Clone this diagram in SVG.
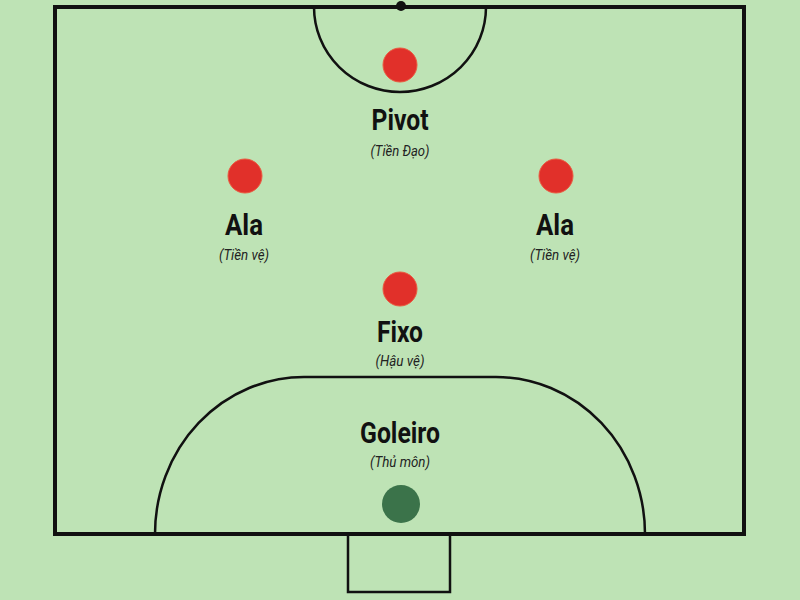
<svg xmlns="http://www.w3.org/2000/svg" width="800" height="600" viewBox="0 0 800 600">
<style>
.line{fill:none;stroke:#111;stroke-width:2.5}
.outer{fill:none;stroke:#111;stroke-width:4}
.red{fill:#e1302a;stroke:#eb5a40;stroke-width:1}
.title{font-family:Roboto,"Liberation Sans",sans-serif;font-weight:bold;font-size:30px;fill:#111;text-anchor:middle}
.sub{font-family:Roboto,"Liberation Sans",sans-serif;font-style:italic;font-size:14.5px;fill:#222;text-anchor:middle}
</style>
<rect x="0" y="0" width="800" height="600" fill="#bee3b5"/>
<g id="field">
<rect class="outer" x="55" y="7" width="689" height="527"/>
<path class="line" d="M314,7 A86,85 0 0 0 486,7"/>
<circle cx="401" cy="6" r="5" fill="#111"/>
<path class="line" d="M155,534 A149,157 0 0 1 304,377 L496,377 A149,157 0 0 1 645,534"/>
<rect class="line" x="348" y="534" width="102" height="58"/>
</g>
<g id="connectors"></g>
<g id="pivot">
<circle class="red" cx="400" cy="65" r="17"/>
<text class="title" x="400" y="130" textLength="57" lengthAdjust="spacingAndGlyphs">Pivot</text>
<text class="sub" x="400" y="156" textLength="59" lengthAdjust="spacingAndGlyphs">(Tiền Đạo)</text>
</g>
<g id="ala-left">
<circle class="red" cx="245" cy="176" r="17"/>
<text class="title" x="244" y="235" textLength="38" lengthAdjust="spacingAndGlyphs">Ala</text>
<text class="sub" x="244" y="260" textLength="50" lengthAdjust="spacingAndGlyphs">(Tiền vệ)</text>
</g>
<g id="ala-right">
<circle class="red" cx="556" cy="176" r="17"/>
<text class="title" x="555" y="235" textLength="38" lengthAdjust="spacingAndGlyphs">Ala</text>
<text class="sub" x="555" y="260" textLength="50" lengthAdjust="spacingAndGlyphs">(Tiền vệ)</text>
</g>
<g id="fixo">
<circle class="red" cx="400" cy="289" r="17"/>
<text class="title" x="400" y="342" textLength="46" lengthAdjust="spacingAndGlyphs">Fixo</text>
<text class="sub" x="400" y="366" textLength="49" lengthAdjust="spacingAndGlyphs">(Hậu vệ)</text>
</g>
<g id="goleiro">
<text class="title" x="400" y="443" textLength="80" lengthAdjust="spacingAndGlyphs">Goleiro</text>
<text class="sub" x="400" y="467" textLength="60" lengthAdjust="spacingAndGlyphs">(Thủ môn)</text>
<circle cx="401" cy="504" r="19" fill="#3b734a"/>
</g>
</svg>
